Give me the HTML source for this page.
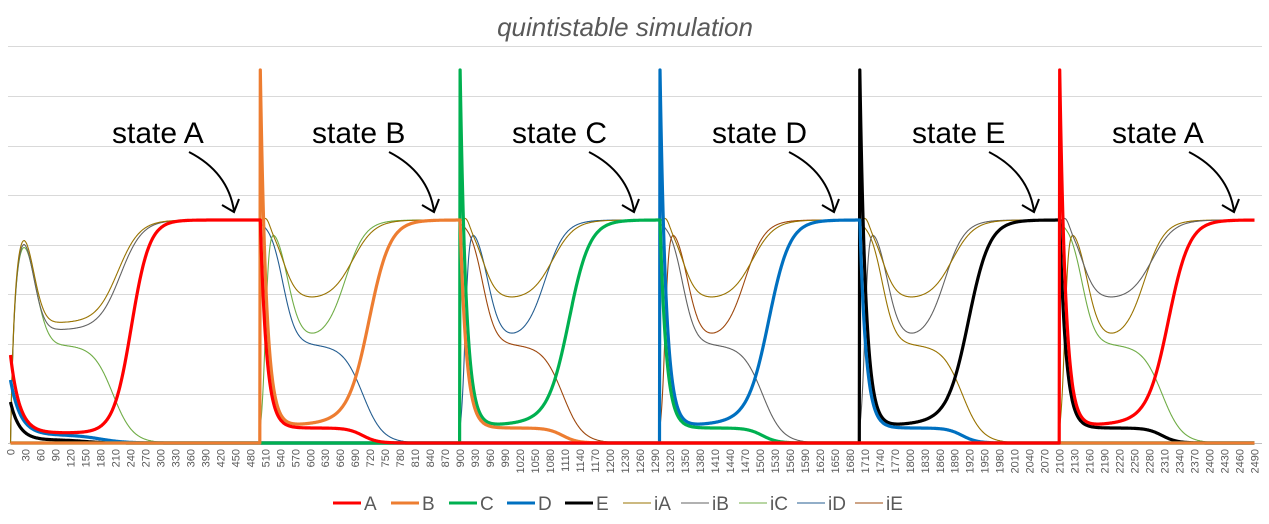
<!DOCTYPE html>
<html><head><meta charset="utf-8"><style>
body{margin:0;background:#fff;}
svg{display:block;font-family:"Liberation Sans",sans-serif;}
</style></head><body>
<svg id="c" width="1269" height="524" viewBox="0 0 1269 524" xmlns="http://www.w3.org/2000/svg">
<rect width="1269" height="524" fill="#fff"/>
<text x="625" y="36" text-anchor="middle" font-size="26" font-style="italic" fill="#595959">quintistable simulation</text>
<g id="grid" stroke="#d9d9d9" stroke-width="1"></g>
<g id="thin" fill="none" stroke-width="1.1"></g>
<g id="thick" fill="none" stroke-width="3.2" stroke-linejoin="round"></g>
<g id="ann"></g>
<g id="xl" font-size="11" fill="#595959"></g>
<g id="leg" font-size="19" fill="#595959"></g>
</svg>
<script>
var NS="http://www.w3.org/2000/svg";
function el(p,t,a,txt){var e=document.createElementNS(NS,t);for(var k in a)e.setAttribute(k,a[k]);if(txt!==undefined)e.textContent=txt;document.getElementById(p).appendChild(e);return e;}
var Y0=443;
[46,96,146,195,245,294,344,394].forEach(function(y){el("grid","line",{x1:8,x2:1262,y1:y+.5,y2:y+.5});});
el("grid","line",{x1:8,x2:1262,y1:443.5,y2:443.5,stroke:"#bfbfbf"});
function X(t){return 10.5+t*0.4996;}
function sig(x){return 1/(1+Math.exp(-x));}
var events=[500,900,1300,1700,2100];
var order=["A","B","C","D","E","A"];
var col={A:"#ff0000",B:"#ed7d31",C:"#00b050",D:"#0070c0",E:"#000000"};
function hNew(t){return 15+0.04*t+358*Math.exp(-t/12)+(208-0.04*t)*sig((t-218)/21);}
function hOld(t){return 208*Math.exp(-t/12.5)+15*(1-sig((t-205)/15));}
function cyc(t){var k=Math.floor((t-100)/400)-1; if(k>4)k=4; return k;}
function main(s,t){
  if(t<500){
    if(s==="A")return 10+78*Math.exp(-t/18)+213*sig((t-242)/18);
    if(s==="D")return (55*Math.exp(-t/20)+8*(1-sig((t-180)/25)));
    if(s==="E")return (38*Math.exp(-t/18)+3*(1-sig((t-150)/20)));
    return 0;
  }
  var k=cyc(t);
  var tau=t-events[k];
  if(order[k+1]===s)return hNew(tau);
  if(order[k]===s)return hOld(tau);
  return 0;
}
function path(f){
  var d="";
  for(var t=0;t<=2490;t+=1){
    d+=(t?"L":"M")+X(t).toFixed(1)+","+(Y0-f(t)).toFixed(1);
  }
  return d;
}
function th(i,t){
  if(t<500){
    var r=1-Math.exp(-t/6);
    if(i===0)return r*(120+85*Math.exp(-Math.pow((t-25)/30,2))+103*sig((t-215)/22));
    if(i===1)return r*(113+88*Math.exp(-Math.pow((t-25)/30,2))+110*sig((t-220)/22));
    if(i===2)return r*(98+100*Math.exp(-Math.pow((t-25)/35,2)))*(1-sig((t-205)/20));
    return 0;
  }
  var k=cyc(t);
  var tau=t-events[k];
  var bump=Math.exp(-Math.pow((tau-12)/10,2));
  if(i===0)return 223+8*bump-80*sig((tau-45)/14)*(1-sig((tau-185)/22));
  if(i===1)return sig((tau-10)/4)*(223-120*sig((tau-55)/13)*(1-sig((tau-170)/20)));
  if(i===2)return (98+125*(1-sig((tau-45)/13)))*(1-sig((tau-205)/20));
  return 0;
}
var rising=["#70ad47","#255e91","#9e480e","#636363","#997300"];
var decaying=["#255e91","#9e480e","#636363","#997300","#70ad47"];
var tops=["#997300","#997300","#997300","#997300","#636363"];
for(var i=2;i>=0;i--){
  var segs=[[0,500]].concat(events.map(function(e,j){return [e,j<4?events[j+1]:2491];}));
  segs.forEach(function(s,k){
    var d="";
    for(var t=s[0];t<s[1]&&t<=2490;t++){d+=(t===s[0]?"M":"L")+X(t).toFixed(1)+","+(Y0-th(i,t)).toFixed(1);}
    var c;
    if(k===0)c=["#997300","#636363","#70ad47"][i];
    else c=[tops[k-1],rising[k-1],decaying[k-1]][i];
    el("thin","path",{d:d,stroke:c});
  });
}
["E","D","C","B","A"].forEach(function(s){
  el("thick","path",{d:path(function(t){return main(s,t);}),stroke:col[s]});
});
var labels=["state A","state B","state C","state D","state E","state A"];
for(var j=0;j<6;j++){
  var dx=j*200;
  el("ann","text",{x:112+dx,y:143,"font-size":"30",fill:"#000"},labels[j]);
  el("ann","path",{d:"M"+(189+dx)+",152 Q"+(228+dx)+",172 "+(234+dx)+",211",fill:"none",stroke:"#000","stroke-width":"2"});
  el("ann","path",{d:"M"+(222+dx)+",205 L"+(234+dx)+",212 L"+(239+dx)+",199",fill:"none",stroke:"#000","stroke-width":"2"});
}
for(var t=0;t<=2490;t+=30){
  var x=X(t)+4;
  el("xl","text",{transform:"translate("+x.toFixed(1)+",449) rotate(-90)","text-anchor":"end"},String(t));
}
var items=[["A","#ff0000",3],["B","#ed7d31",3],["C","#00b050",3],["D","#0070c0",3],["E","#000",3],["iA","#997300",1],["iB","#636363",1],["iC","#70ad47",1],["iD","#255e91",1],["iE","#9e480e",1]];
items.forEach(function(it,j){
  var x=333+j*58;
  el("leg","line",{x1:x,x2:x+28,y1:503,y2:503,stroke:it[1],"stroke-width":it[2]});
  el("leg","text",{x:x+31,y:510},it[0]);
});
</script>
</body></html>
